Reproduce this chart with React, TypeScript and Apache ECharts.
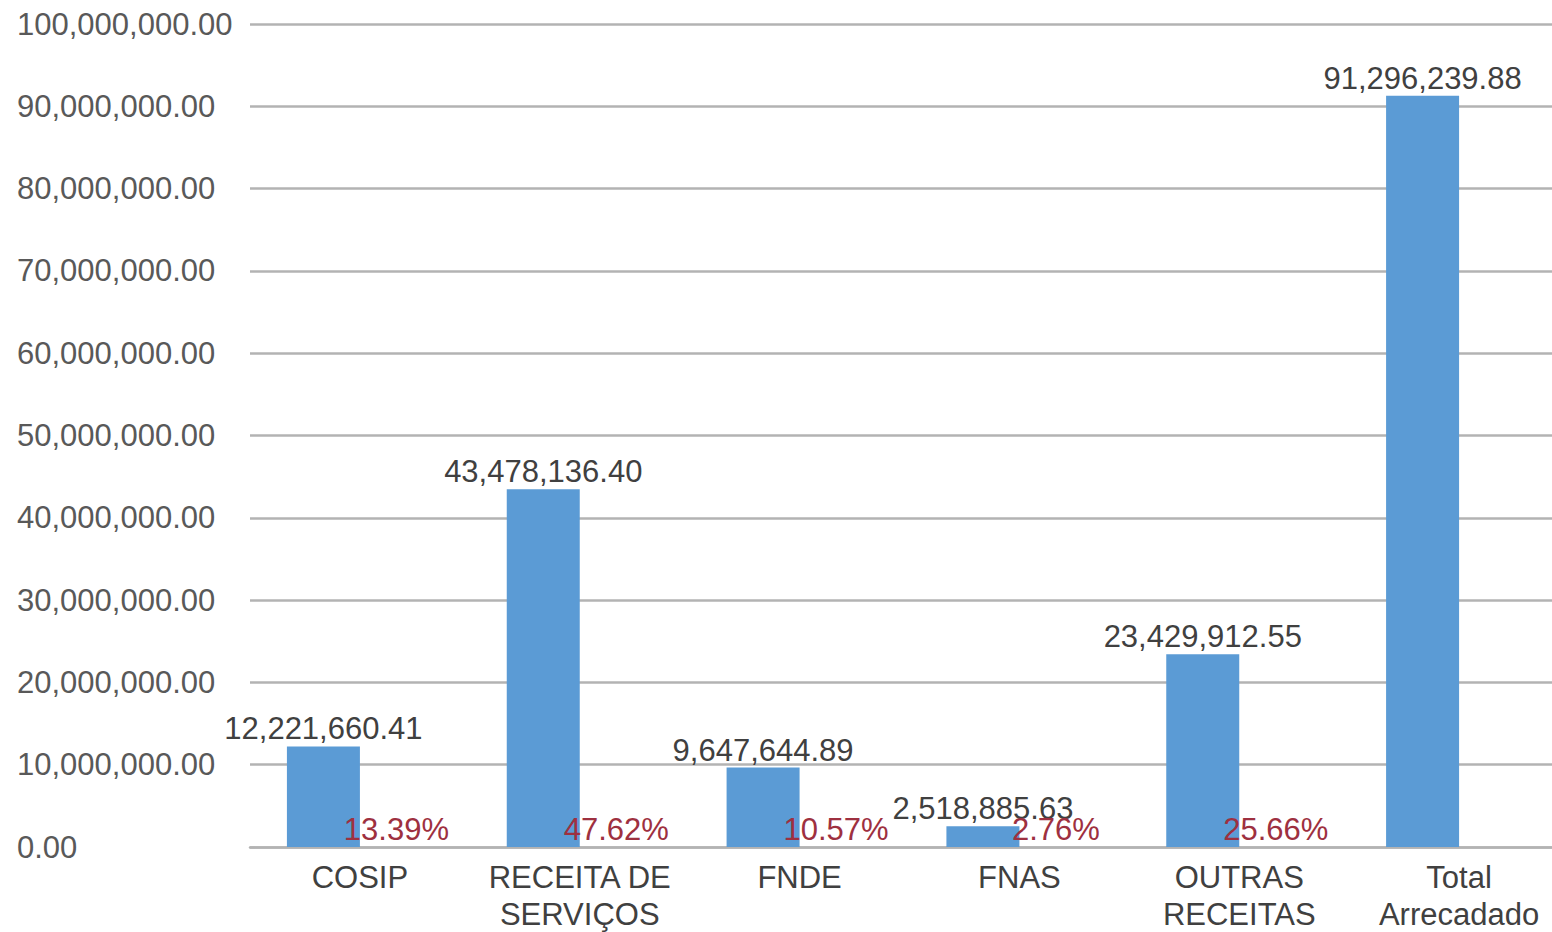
import React, { useEffect, useRef } from "react";
import * as echarts from "echarts";

const categories = [
  "COSIP",
  "RECEITA DE\nSERVIÇOS",
  "FNDE",
  "FNAS",
  "OUTRAS\nRECEITAS",
  "Total\nArrecadado",
];
const values = [12221660.41, 43478136.4, 9647644.89, 2518885.63, 23429912.55, 91296239.88];
const percents: (number | string)[] = [13.39, 47.62, 10.57, 2.76, 25.66, "-"];
const yMin = 0;
const yMax = 100000000;
const yInterval = 10000000;

const fmt = (v: number) =>
  v.toLocaleString("en-US", { minimumFractionDigits: 2, maximumFractionDigits: 2 });

const FONT = "'Liberation Sans', Arial, sans-serif";
const FS = 31;

export default function App() {
  const ref = useRef<HTMLDivElement>(null);
  useEffect(() => {
    if (!ref.current) return;
    const chart = echarts.init(ref.current, undefined, { renderer: "svg" });
    chart.setOption({
      animation: false,
      textStyle: { fontFamily: FONT },
      grid: {
        left: 250,
        top: 24,
        bottom: 85,
        width: 1319,
        containLabel: false,
        outerBoundsMode: "none",
      },
      xAxis: {
        type: "category",
        data: categories,
        axisLine: { show: true, lineStyle: { color: "#b3b3b3", width: 2.5 } },
        axisTick: { show: false },
        axisLabel: {
          color: "#404040",
          fontSize: FS,
          fontFamily: FONT,
          lineHeight: 37,
          margin: 12,
          interval: 0,
        },
      },
      yAxis: {
        type: "value",
        min: yMin,
        max: yMax,
        interval: yInterval,
        axisLine: { show: false },
        axisTick: { show: false },
        splitLine: { lineStyle: { color: "#b3b3b3", width: 2.5 } },
        axisLabel: {
          align: "left",
          margin: 233,
          color: "#595959",
          fontSize: FS,
          fontFamily: FONT,
          formatter: (v: number) => fmt(v),
        },
      },
      series: [
        {
          type: "bar",
          data: values,
          barWidth: 73,
          barGap: "0%",
          itemStyle: { color: "#5b9bd5" },
          label: {
            show: true,
            position: "top",
            distance: 2,
            color: "#404040",
            fontSize: FS,
            fontFamily: FONT,
            formatter: (p: any) => fmt(p.value),
          },
        },
        {
          type: "bar",
          data: percents,
          barWidth: 73,
          barGap: "0%",
          itemStyle: { color: "transparent" },
          z: 3,
          label: {
            show: true,
            position: "top",
            distance: 2,
            color: "#9e3040",
            fontSize: FS,
            fontFamily: FONT,
            formatter: (p: any) => `${Number(p.value).toFixed(2)}%`,
          },
        },
      ],
    });
    return () => chart.dispose();
  }, []);
  return (
    <div
      ref={ref}
      style={{ position: "fixed", left: 0, top: 0, width: 1552, height: 932, background: "#fff" }}
    />
  );
}
